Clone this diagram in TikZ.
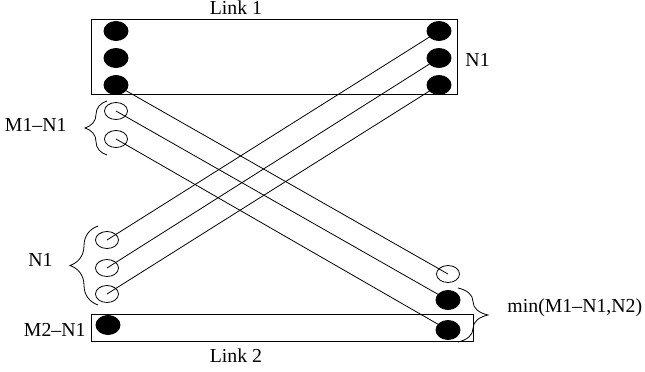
\documentclass[tikz,border=0pt]{standalone}
\usepackage{fontspec}
\setmainfont{Liberation Serif}
\usetikzlibrary{decorations.pathreplacing,shapes.geometric}
\begin{document}
\begin{tikzpicture}[x=1pt,y=-1pt,line width=0.9pt,
  full/.style={ellipse,fill=black,draw=black,minimum width=24pt,minimum height=19pt,inner sep=0pt},
  open/.style={ellipse,draw=black,line width=0.8pt,minimum width=23pt,minimum height=17pt,inner sep=0pt},
  lbl/.style={inner sep=0pt,font=\fontsize{19.8}{22}\selectfont},
  link/.style={line width=0.8pt},
  brc/.style={decorate,line width=0.8pt}]
\useasboundingbox (0,0) rectangle (645,372);
% boxes
\draw (91,19) rectangle (457,94);
\draw (91,314) rectangle (473,341);
% nodes
\node[full] (tl1) at (116,31) {};
\node[full] (tl2) at (116,58) {};
\node[full] (tl3) at (116,85) {};
\node[full] (tr1) at (439,31) {};
\node[full] (tr2) at (439,58) {};
\node[full] (tr3) at (439,85) {};
\node[open] (m1) at (116,111) {};
\node[open] (m2) at (116,139) {};
\node[open] (b1) at (107,240) {};
\node[open] (b2) at (107,268) {};
\node[open] (b3) at (107,294) {};
\node[open] (br1) at (448,274) {};
\node[full] (br2) at (448,300) {};
\node[full] (br3) at (448,330) {};
\node[full] (md) at (108,325) {};
% connectors
\draw[link] (tl3.center) -- (br1.center);
\draw[link] (m1.center) -- (br2.center);
\draw[link] (m2.center) -- (br3.center);
\draw[link] (tr1.center) -- (b1.center);
\draw[link] (tr2.center) -- (b2.center);
\draw[link] (tr3.center) -- (b3.center);
% braces
\coordinate (ba1) at (107,155);
\coordinate (ba2) at (107,101);
\draw[brc,decoration={brace,amplitude=22pt}] (ba1) -- (ba2);
\coordinate (bb1) at (98,305);
\coordinate (bb2) at (98,226);
\draw[brc,decoration={brace,amplitude=28pt}] (bb1) -- (bb2);
\coordinate (bc1) at (458,288);
\coordinate (bc2) at (458,342);
\draw[brc,decoration={brace,amplitude=30pt}] (bc1) -- (bc2);
% labels
\node[lbl,anchor=base] (l1) at (236,14) {Link 1};
\node[lbl,anchor=base] (l2) at (236,362) {Link 2};
\node[lbl,anchor=base west] (n1r) at (465,66) {N1};
\node[lbl,anchor=base east] (mn1) at (67,131) {M1--N1};
\node[lbl,anchor=base east] (n1l) at (53,266) {N1};
\node[lbl,anchor=base east] (m2n1) at (86,336) {M2--N1};
\node[lbl,anchor=base west] (mn) at (507,312) {min(M1--N1,N2)};
\end{tikzpicture}
\end{document}
